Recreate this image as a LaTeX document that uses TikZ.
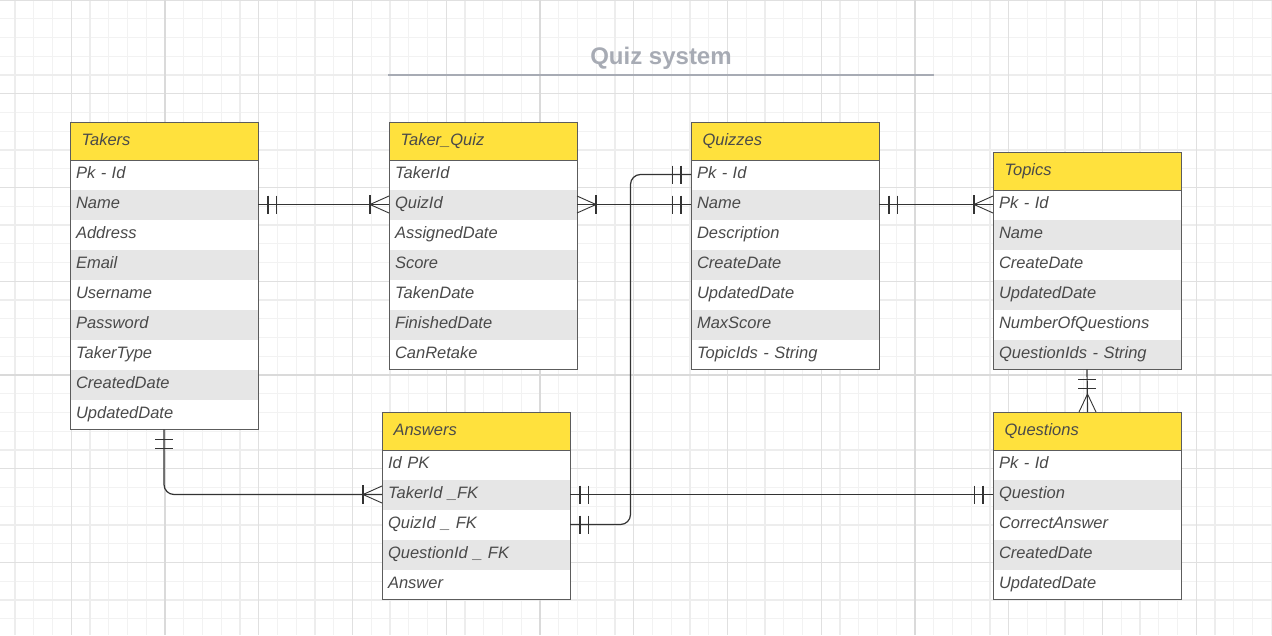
\documentclass[tikz,border=0pt]{standalone}
\usepackage{fontspec}
\setmainfont{Liberation Sans}
\usetikzlibrary{calc}
\definecolor{hdrY}{HTML}{FFE13D}
\definecolor{rowG}{HTML}{E6E6E6}
\definecolor{txtC}{HTML}{4A4A4A}
\definecolor{bordC}{HTML}{5C5C5C}
\definecolor{gridMinor}{HTML}{F2F2F2}
\definecolor{gridMid}{HTML}{EDEDED}
\definecolor{gridFive}{HTML}{E0E0E0}
\definecolor{gridMajor}{HTML}{DADADA}
\definecolor{titleC}{HTML}{A7ABB4}
\definecolor{connC}{HTML}{333333}
\tikzset{
  erfont/.style={font=\fontsize{16.5}{20}\selectfont\itshape, text=txtC},
  hdr/.style={erfont, draw=bordC, line width=1pt, fill=hdrY, anchor=north west,
    minimum height=37.5, text width=166, inner xsep=11, inner ysep=0, align=left},
  rowbox/.style={erfont, anchor=north west, minimum height=30, text width=176,
    inner xsep=6, inner ysep=0, align=left, outer sep=0},
  frame/.style={draw=bordC, line width=1pt},
  conn/.style={draw=connC, line width=1.2pt},
  titletext/.style={font=\fontsize{24}{28}\selectfont\bfseries, text=titleC},
}
\newcommand\erent[5]{%
  \node[hdr] (#1-h) at (#2,#3) {\strut#4};
  \foreach \t [count=\i] in {#5} {
    \pgfmathtruncatemacro\g{mod(\i,2)}
    \ifnum\g=0 \def\rf{rowG}\else\def\rf{white}\fi
    \node[rowbox, fill=\rf] (#1-\i) at ($(#2,#3)+(0,{37.5+30*(\i-1)})$) {\strut\t};
    \xdef\nlast{\i}
  }
  \draw[frame] (#1-h.north west) rectangle (#1-\nlast.south east);
  \draw[frame] (#1-h.south west) -- (#1-h.south east);
}
% two bars, horizontal connector; #1 point, #2 direction sign
\newcommand\barsH[2]{%
  \draw[conn] ($#1+(#2*10,-9)$) -- ++(0,18);
  \draw[conn] ($#1+(#2*18.5,-9)$) -- ++(0,18);}
\newcommand\barsV[2]{%
  \draw[conn] ($#1+(-9,#2*10)$) -- ++(18,0);
  \draw[conn] ($#1+(-9,#2*19)$) -- ++(18,0);}
% crow's foot with bar, horizontal
\newcommand\crowH[2]{%
  \draw[conn, line width=0.9pt] ($#1+(0,-8.5)$) -- ($#1+(#2*19,0)$) -- ($#1+(0,8.5)$);
  \draw[conn] ($#1+(#2*19,-9.5)$) -- ++(0,19);}
\newcommand\crowV[2]{%
  \draw[conn, line width=0.9pt] ($#1+(-8.5,0)$) -- ($#1+(0,#2*18)$) -- ($#1+(8.5,0)$);}
\begin{document}
\begin{tikzpicture}[x=1pt,y=-1pt]
\useasboundingbox (0,0) rectangle (1272,635);
\fill[white] (0,0) rectangle (1272,635);
% grid
\foreach \k in {0,...,67} {
  \pgfmathsetmacro\xx{15+18.75*\k}
  \draw[gridMinor, line width=1pt] (\xx,0) -- (\xx,635);}
\foreach \k in {0,...,34} {
  \pgfmathsetmacro\yy{18.75*\k}
  \draw[gridMinor, line width=1pt] (0,\yy) -- (1272,\yy);}
\foreach \k in {0,...,17} {
  \pgfmathsetmacro\xx{15+75*\k}
  \draw[gridMid, line width=2pt] (\xx,0) -- (\xx,635);}
\foreach \k in {0,...,8} {
  \pgfmathsetmacro\yy{75*\k}
  \draw[gridMid, line width=2pt] (0,\yy) -- (1272,\yy);}
\foreach \k in {-1,...,12} {
  \pgfmathsetmacro\xx{165+93.75*\k}
  \draw[gridFive, line width=1pt] (\xx,0) -- (\xx,635);}
\foreach \k in {0,...,6} {
  \pgfmathsetmacro\yy{93.75*\k}
  \draw[gridFive, line width=1pt] (0,\yy) -- (1272,\yy);}
\foreach \xx in {165,540,915} {
  \draw[gridMajor, line width=2pt] (\xx,0) -- (\xx,635);}
\draw[gridMajor, line width=2pt] (0,375) -- (1272,375);
% title
\node[titletext] (title) at (661,58) {Quiz system};
\coordinate (ulL) at (388,74.5);
\coordinate (ulR) at (934,74.5);
\draw[titleC, line width=2pt] (ulL) -- (ulR);
% entities
\erent{tk}{70}{122}{Takers}{Pk - Id,Name,Address,Email,Username,Password,TakerType,CreatedDate,UpdatedDate}
\erent{tq}{389}{122}{Taker\_Quiz}{TakerId,QuizId,AssignedDate,Score,TakenDate,FinishedDate,CanRetake}
\erent{qz}{691}{122}{Quizzes}{Pk - Id,Name,Description,CreateDate,UpdatedDate,MaxScore,TopicIds - String}
\erent{tp}{993}{152}{Topics}{Pk - Id,Name,CreateDate,UpdatedDate,NumberOfQuestions,QuestionIds - String}
\erent{an}{382}{412}{Answers}{Id PK,TakerId \_FK,QuizId \_ FK,QuestionId \_ FK,Answer}
\erent{qs}{993}{412}{Questions}{Pk - Id,Question,CorrectAnswer,CreatedDate,UpdatedDate}
% connectors
\draw[conn] (tk-2.east) -- (tq-2.west);
\barsH{(tk-2.east)}{1}
\crowH{(tq-2.west)}{-1}
\draw[conn] (tq-2.east) -- (qz-2.west);
\crowH{(tq-2.east)}{1}
\barsH{(qz-2.west)}{-1}
\coordinate (v3) at (630.5,300);
\draw[conn, rounded corners=10pt] (qz-1.west) -| (v3 |- an-3.east) -- (an-3.east);
\barsH{(qz-1.west)}{-1}
\barsH{(an-3.east)}{1}
\draw[conn] (qz-2.east) -- (tp-1.west);
\barsH{(qz-2.east)}{1}
\crowH{(tp-1.west)}{-1}
\draw[conn] (tp-6.south) -- (qs-h.north);
\barsV{(tp-6.south)}{1}
\crowV{(qs-h.north)}{-1}
\draw[conn, rounded corners=10pt] (tk-9.south) |- (an-2.west);
\barsV{(tk-9.south)}{1}
\crowH{(an-2.west)}{-1}
\draw[conn] (an-2.east) -- (qs-2.west);
\barsH{(an-2.east)}{1}
\barsH{(qs-2.west)}{-1}
\end{tikzpicture}
\end{document}
